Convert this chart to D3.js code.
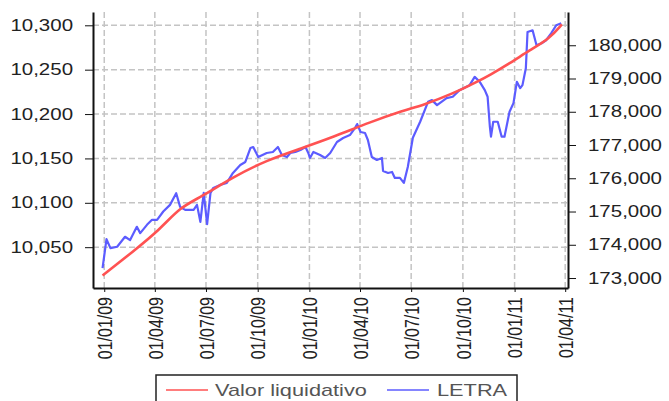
<!DOCTYPE html>
<html>
<head>
<meta charset="utf-8">
<script src="https://cdn.jsdelivr.net/npm/d3@7"></script>
<style>
  body { margin: 0; background: #fff; }
  svg text { font-family: "Liberation Sans", Arial, sans-serif; }
</style>
</head>
<body>
<div id="chart"></div>
<script>
// tick values
const dateTicks = ["2009-01-01", "2009-04-01", "2009-07-01", "2009-10-01", "2010-01-01",
  "2010-04-01", "2010-07-01", "2010-10-01", "2011-01-01", "2011-04-01"];
const leftTicks = [10050, 10100, 10150, 10200, 10250, 10300];
const rightTicks = [173000, 174000, 175000, 176000, 177000, 178000, 179000, 180000];

const seriesNames = ["Valor liquidativo", "LETRA"];
const seriesColors = ["#ff5252", "#5c5cff"];

// Valor liquidativo (left axis)
const valorDates = ["2008-12-29", "2009-02-21", "2009-04-10", "2009-05-16", "2009-06-21",
  "2009-08-18", "2009-10-17", "2009-12-16", "2010-02-12", "2010-04-19", "2010-06-17",
  "2010-07-22", "2010-09-13", "2010-10-25", "2010-11-18", "2010-12-23", "2011-01-28",
  "2011-03-04", "2011-03-26"];
const valorValues = [10018, 10045, 10070, 10095, 10106,
  10129, 10148, 10161, 10174, 10191, 10204,
  10210, 10223, 10236, 10244, 10257, 10272,
  10285, 10301];

// LETRA (right axis)
const letraDates = ["2008-12-29", "2009-01-05", "2009-01-12", "2009-01-24", "2009-02-07",
  "2009-02-16", "2009-02-28", "2009-03-06", "2009-03-18", "2009-03-27", "2009-04-05",
  "2009-04-16", "2009-04-28", "2009-05-09", "2009-05-16", "2009-05-25", "2009-06-09",
  "2009-06-15", "2009-06-21", "2009-06-27", "2009-07-03", "2009-07-09", "2009-07-14",
  "2009-07-26", "2009-08-07", "2009-08-18", "2009-08-31", "2009-09-09", "2009-09-18",
  "2009-09-23", "2009-10-02", "2009-10-17", "2009-10-28", "2009-11-06", "2009-11-13",
  "2009-11-22", "2009-11-28", "2009-12-07", "2009-12-16", "2009-12-25", "2009-12-30",
  "2010-01-02", "2010-01-08", "2010-01-20", "2010-01-29", "2010-02-07", "2010-02-19",
  "2010-03-02", "2010-03-14", "2010-03-23", "2010-03-27", "2010-04-02", "2010-04-10",
  "2010-04-15", "2010-04-22", "2010-05-01", "2010-05-10", "2010-05-12", "2010-05-21",
  "2010-05-28", "2010-06-02", "2010-06-11", "2010-06-18", "2010-06-25", "2010-07-04",
  "2010-07-17", "2010-07-31", "2010-08-07", "2010-08-16", "2010-09-02", "2010-09-13",
  "2010-09-25", "2010-10-13", "2010-10-22", "2010-10-31", "2010-11-09", "2010-11-14",
  "2010-11-18", "2010-11-20", "2010-11-24", "2010-12-02", "2010-12-09", "2010-12-14",
  "2010-12-23", "2010-12-30", "2011-01-05", "2011-01-11", "2011-01-15", "2011-01-21",
  "2011-01-24", "2011-02-02", "2011-02-09", "2011-02-18", "2011-02-26", "2011-03-07",
  "2011-03-16", "2011-03-25"];
const letraValues = [173300, 174170, 173900, 173940, 174240,
  174140, 174540, 174350, 174600, 174750, 174750,
  175000, 175200, 175550, 175140, 175050, 175050,
  175200, 174690, 175560, 174620, 175560, 175710,
  175800, 175860, 176160, 176400, 176490, 176910,
  176940, 176640, 176760, 176790, 176940, 176700,
  176640, 176760, 176790, 176850, 176940, 176760,
  176610, 176790, 176700, 176610, 176760, 177090,
  177210, 177300, 177510, 177630, 177390, 177360,
  177150, 176640, 176550, 176610, 176220, 176160,
  176190, 176010, 176010, 175860, 176340, 177220,
  177700, 178300, 178350, 178200, 178410, 178450,
  178650, 178800, 179050, 178900, 178650, 178450,
  177550, 177250, 177700, 177700, 177250, 177250,
  178000, 178260, 178900, 178710, 178800, 179310,
  180400, 180450, 180000, 180060, 180150, 180360,
  180600, 180660];

const SX = 1.28; // the picture's text is stretched wide

let margin = {"left": 93, "right": 101, "top": 12, "bottom": 113}
let width = 669 - margin.left - margin.right
let height = 401 - margin.top - margin.bottom

let parse = d3.timeParse("%Y-%m-%d")

let root = d3.select("#chart")
  .append("svg")
  .attr("width", 669)
  .attr("height", 401)

root.append("rect").attr("width", 669).attr("height", 401).attr("fill", "#fff")

let svg = root.append("g")
  .attr("transform", "translate(" + margin.left + "," + margin.top + ")")

let x = d3.scaleTime()
  .domain([parse("2008-12-12"), parse("2011-04-06")])
  .range([0, width])
let yL = d3.scaleLinear().domain([10004, 10315]).range([height, 0])
let yR = d3.scaleLinear().domain([172700, 181000]).range([height, 0])

// grid
svg.append("g").selectAll("line")
  .data(leftTicks)
  .join("line")
  .attr("x1", 0).attr("x2", width)
  .attr("y1", d => yL(d)).attr("y2", d => yL(d))
  .attr("stroke", "#c4c4c4").attr("stroke-width", 1.5).attr("stroke-dasharray", "6,3")

svg.append("g").selectAll("line")
  .data(dateTicks.map(parse))
  .join("line")
  .attr("x1", d => x(d)).attr("x2", d => x(d))
  .attr("y1", 0).attr("y2", height)
  .attr("stroke", "#c4c4c4").attr("stroke-width", 1.5).attr("stroke-dasharray", "6,3")

// lines
let letra = letraDates.map((d, i) => ({date: parse(d), value: letraValues[i]}))
let valor = valorDates.map((d, i) => ({date: parse(d), value: valorValues[i]}))

svg.append("path")
  .datum(letra)
  .attr("fill", "none")
  .attr("stroke", seriesColors[1])
  .attr("stroke-width", 2.2)
  .attr("stroke-linejoin", "round")
  .attr("d", d3.line().x(d => x(d.date)).y(d => yR(d.value)))

svg.append("path")
  .datum(valor)
  .attr("fill", "none")
  .attr("stroke", seriesColors[0])
  .attr("stroke-width", 2.6)
  .attr("d", d3.line().curve(d3.curveBasis).x(d => x(d.date)).y(d => yL(d.value)))

// axes
let leftAxis = svg.append("g")
  .attr("color", "#111")
  .call(d3.axisLeft(yL).tickValues(leftTicks).tickSize(8).tickSizeOuter(0).tickFormat(d3.format(",")))
  .attr("font-size", 16)
leftAxis.selectAll("text")
  .attr("x", -20 / SX)
  .attr("transform", `scale(${SX},1)`)
  .attr("fill", "#222")

let rightAxis = svg.append("g")
  .attr("transform", `translate(${width},0)`)
  .attr("color", "#111")
  .call(d3.axisRight(yR).tickValues(rightTicks).tickSize(8).tickSizeOuter(0).tickFormat(d3.format(",")))
  .attr("font-size", 16)
rightAxis.selectAll("text")
  .attr("x", 20 / SX)
  .attr("transform", `scale(${SX},1)`)
  .attr("fill", "#222")

let bottomAxis = svg.append("g")
  .attr("transform", `translate(0,${height})`)
  .attr("color", "#111")
  .call(d3.axisBottom(x).tickValues(dateTicks.map(parse)).tickSize(4).tickSizeOuter(0)
    .tickFormat(d3.timeFormat("%d/%m/%y")))
  .attr("font-size", 16)
bottomAxis.selectAll("text")
  .attr("transform", `scale(${SX},1) rotate(-90)`)
  .attr("x", -9)
  .attr("y", 0)
  .attr("dy", "0.35em")
  .style("text-anchor", "end")
  .attr("fill", "#222")

svg.selectAll(".domain").attr("stroke-width", 2)

// legend
let legend = root.append("g").attr("transform", "translate(156,375)")
legend.append("rect")
  .attr("width", 361).attr("height", 40)
  .attr("fill", "#fff").attr("stroke", "#222").attr("stroke-width", 1.5)

let legendX = [[10, 59], [231, 281]]
seriesNames.forEach((name, i) => {
  legend.append("line")
    .attr("x1", legendX[i][0]).attr("x2", legendX[i][0] + 42)
    .attr("y1", 15).attr("y2", 15)
    .attr("stroke", seriesColors[i]).attr("stroke-width", 1.5)
  legend.append("text")
    .attr("transform", `translate(${legendX[i][1]},21) scale(${SX},1)`)
    .attr("font-size", 17)
    .attr("fill", "#555")
    .text(name)
})
</script>
</body>
</html>
